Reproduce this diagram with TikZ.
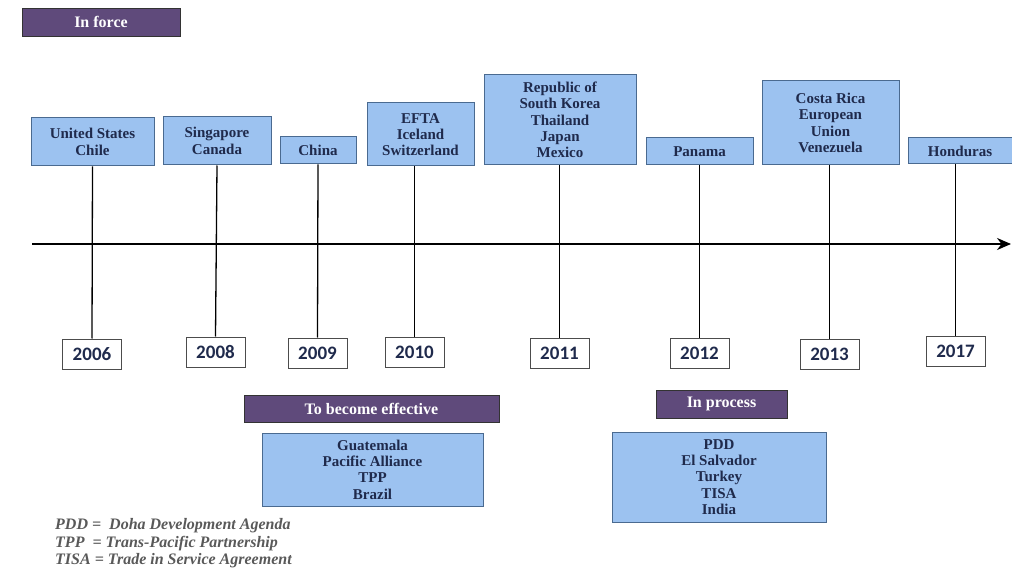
\documentclass[tikz,border=0pt]{standalone}
\usepackage{fontspec}
\setmainfont{Liberation Serif}
\newfontfamily\yearfont{Carlito}
\usetikzlibrary{arrows.meta}
\definecolor{navy}{HTML}{1F2A4C}
\definecolor{boxfill}{HTML}{9CC2F0}
\definecolor{boxline}{HTML}{4A6A90}
\definecolor{purp}{HTML}{5F4A7B}
\tikzset{
  country/.style={draw=boxline, line width=1pt, fill=boxfill, text=navy, font=\bfseries\fontsize{15}{16.3}\selectfont, align=center, inner sep=0pt},
  yearbox/.style={draw=black!70, line width=1pt, fill=white, text=navy, font=\yearfont\bfseries\fontsize{19}{20}\selectfont, inner sep=0pt, minimum width=59pt, minimum height=30pt},
  header/.style={draw=black!80, line width=0.8pt, fill=purp, text=white, font=\bfseries\fontsize{16}{16}\selectfont, inner sep=0pt},
  stem/.style={black, line width=1.3pt},
  note/.style={text=black!65, font=\bfseries\itshape\fontsize{16}{18}\selectfont, anchor=west, inner sep=0pt}
}
\begin{document}
\begin{tikzpicture}[x=1pt,y=-1pt]
\useasboundingbox (0,0) rectangle (1012,569);
% header
\node[header, minimum width=158pt, minimum height=28pt] (inforce) at (101,22) {In force};
% timeline
\coordinate (tl0) at (32,244);
\coordinate (tl1) at (1011,244);
\draw[line width=2.2pt, -{Stealth[length=14pt,width=12pt]}] (tl0) -- (tl1);
% top boxes
\node[country, minimum width=123pt, minimum height=48pt] (c1) at (92.5,142) {United States\\Chile};
\node[country, minimum width=108pt, minimum height=48pt] (c2) at (217,141) {Singapore\\Canada};
\node[country, minimum width=76pt, minimum height=27pt] (c3) at (318,150.5) {China};
\node[country, minimum width=107pt, minimum height=63pt] (c4) at (420.5,134.5) {EFTA\\Iceland\\Switzerland};
\node[country, minimum width=152pt, minimum height=90pt] (c5) at (560,120) {Republic of\\South Korea\\Thailand\\Japan\\Mexico};
\node[country, minimum width=107pt, minimum height=27pt] (c6) at (699.5,151.5) {Panama};
\node[country, minimum width=137pt, minimum height=84pt] (c7) at (830.5,123) {Costa Rica\\European\\Union\\Venezuela};
\node[country, minimum width=104pt, minimum height=26pt] (c8) at (960,151) {Honduras};
% year boxes
\node[yearbox] (y1) at (92,354) {2006};
\node[yearbox] (y2) at (215.5,352) {2008};
\node[yearbox] (y3) at (317.5,353) {2009};
\node[yearbox] (y4) at (414.5,352) {2010};
\node[yearbox] (y5) at (559.5,353.5) {2011};
\node[yearbox] (y6) at (699.5,353.5) {2012};
\node[yearbox] (y7) at (829.5,354.5) {2013};
\node[yearbox] (y8) at (955.5,351.5) {2017};
% stems
\draw[stem] (c1.south) -- (y1.north);
\draw[stem] (c2.south) -- (y2.north);
\draw[stem] (c3.south) -- (y3.north);
\draw[stem] (c4.south -| y4.north) -- (y4.north);
\draw[stem] (c5.south -| y5.north) -- (y5.north);
\draw[stem] (c6.south) -- (y6.north);
\draw[stem] (c7.south -| y7.north) -- (y7.north);
\draw[stem] (c8.south -| y8.north) -- (y8.north);
% lower groups
\node[header, minimum width=255pt, minimum height=27pt] (tbe) at (371.5,408.5) {To become effective};
\node[country, minimum width=221pt, minimum height=73pt] (g1) at (372.5,469.5) {Guatemala\\Pacific Alliance\\TPP\\Brazil};
\node[header, minimum width=131pt, minimum height=28pt] (inp) at (721.5,404) {In process};
\node[country, minimum width=214pt, minimum height=90pt] (g2) at (719,477) {PDD\\El Salvador\\Turkey\\TISA\\India};
% notes
\node[note] (n1) at (55,526) {PDD =\ \ Doha Development Agenda};
\node[note] (n2) at (55,544) {TPP\ \ = Trans-Pacific Partnership};
\node[note] (n3) at (55,561) {TISA = Trade in Service Agreement};
\end{tikzpicture}
\end{document}
